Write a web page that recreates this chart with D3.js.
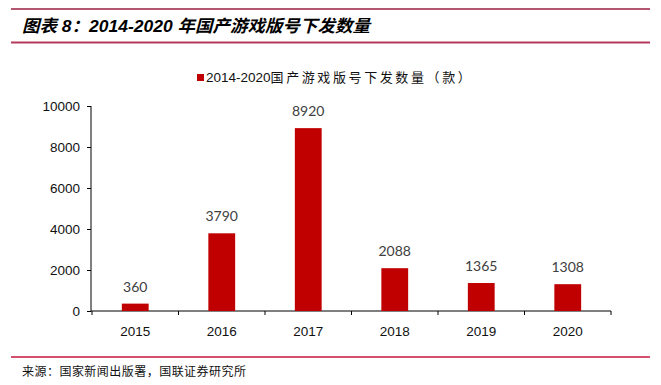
<!DOCTYPE html>
<html>
<head>
<meta charset="utf-8">
<script src="https://cdn.jsdelivr.net/npm/d3@7"></script>
<style>
  body { margin: 0; background: #fff; }
  text { font-family: "Liberation Sans", Arial, "Noto Sans CJK SC", sans-serif; }
</style>
</head>
<body>
<div id="chart"></div>
<script>
const width = 661;
const height = 385;
const years = ['2015', '2016', '2017', '2018', '2019', '2020'];
const counts = [360, 3790, 8920, 2088, 1365, 1308];
const yTicks = [0, 2000, 4000, 6000, 8000, 10000];
const titleText = '图表 8：2014-2020 年国产游戏版号下发数量';
const legendNum = '2014-2020';
const legendCn = '国产游戏版号下发数量（款）';
const sourceText = '来源：国家新闻出版署，国联证券研究所';
const barColor = '#c00000';

const svg = d3.select('#chart')
  .append('svg')
  .attr('width', width)
  .attr('height', height);

// header lines and title
svg.append('line')
  .attr('x1', 11).attr('x2', 650).attr('y1', 9).attr('y2', 9)
  .attr('stroke', '#9b1f40').attr('stroke-width', 1.5);
svg.append('line')
  .attr('x1', 11).attr('x2', 650).attr('y1', 42.5).attr('y2', 42.5)
  .attr('stroke', '#b5385a').attr('stroke-width', 2);
svg.append('text')
  .attr('x', 22).attr('y', 32)
  .attr('font-size', 17)
  .attr('font-weight', 'bold')
  .attr('font-style', 'italic')
  .attr('textLength', 348)
  .attr('lengthAdjust', 'spacingAndGlyphs')
  .style('font-family', '"Liberation Sans", "Noto Sans CJK SC", sans-serif')
  .text(titleText);

// legend
svg.append('rect')
  .attr('x', 197).attr('y', 74).attr('width', 7).attr('height', 7)
  .attr('fill', barColor);
const legendText = svg.append('text')
  .attr('x', 206).attr('y', 82)
  .attr('font-size', 13.5)
  .attr('fill', '#111');
legendText.append('tspan').text(legendNum);
legendText.append('tspan')
  .attr('letter-spacing', 2.6)
  .style('font-family', '"Noto Sans CJK SC", sans-serif')
  .attr('font-size', 13)
  .text(legendCn);

// scales
const x = d3.scaleBand()
  .domain(years)
  .range([92, 611])
  .paddingInner(0.69)
  .paddingOuter(0.345);

const y = d3.scaleLinear()
  .domain([0, 10000])
  .range([311, 106]);

// axes
const yAxis = d3.axisLeft(y).tickValues(yTicks).tickFormat(d3.format('d')).tickSize(4).tickPadding(7);
const yAxisG = svg.append('g')
  .attr('transform', 'translate(91,0)')
  .call(yAxis);
yAxisG.select('.domain').attr('d', `M0,${y(10000)}V${y(0)}`);

const xAxis = d3.axisBottom(x).tickSize(0).tickPadding(15);
const xAxisG = svg.append('g')
  .attr('transform', `translate(0,${y(0)})`)
  .call(xAxis);
xAxisG.select('.domain').attr('d', `M91,0H611`);
// boundary ticks between categories
const bounds = years.map((d, i) => 92 + i * (x.step())).concat([611]);
xAxisG.selectAll('.bound')
  .data(bounds)
  .enter()
  .append('line')
  .attr('x1', d => d).attr('x2', d => d)
  .attr('y1', 0).attr('y2', 4)
  .attr('stroke', '#000');

svg.selectAll('.tick text')
  .attr('font-size', 13.5)
  .attr('fill', '#111')
  .style('font-family', '"Liberation Sans", Arial, sans-serif');
svg.selectAll('.domain, .tick line').attr('stroke', '#000');

// bars
const data = years.map((yr, i) => ({ year: yr, value: counts[i] }));
svg.selectAll('.bar')
  .data(data)
  .enter()
  .append('rect')
  .attr('class', 'bar')
  .attr('x', d => x(d.year))
  .attr('y', d => y(d.value))
  .attr('width', x.bandwidth())
  .attr('height', d => y(0) - y(d.value))
  .attr('fill', barColor);

// value labels
svg.selectAll('.val')
  .data(data)
  .enter()
  .append('text')
  .attr('class', 'val')
  .attr('x', d => x(d.year) + x.bandwidth() / 2)
  .attr('y', d => y(d.value) - 12)
  .attr('text-anchor', 'middle')
  .attr('font-size', 14)
  .attr('fill', '#404040')
  .style('font-family', 'Lato, "Open Sans", sans-serif')
  .text(d => d.value);

// footer
svg.append('line')
  .attr('x1', 11).attr('x2', 650).attr('y1', 357).attr('y2', 357)
  .attr('stroke', '#c4173e').attr('stroke-width', 1.5);
svg.append('text')
  .attr('x', 22).attr('y', 376)
  .attr('font-size', 12)
  .attr('fill', '#111')
  .attr('textLength', 224)
  .style('font-family', '"Noto Sans CJK SC", sans-serif')
  .text(sourceText);
</script>
</body>
</html>
